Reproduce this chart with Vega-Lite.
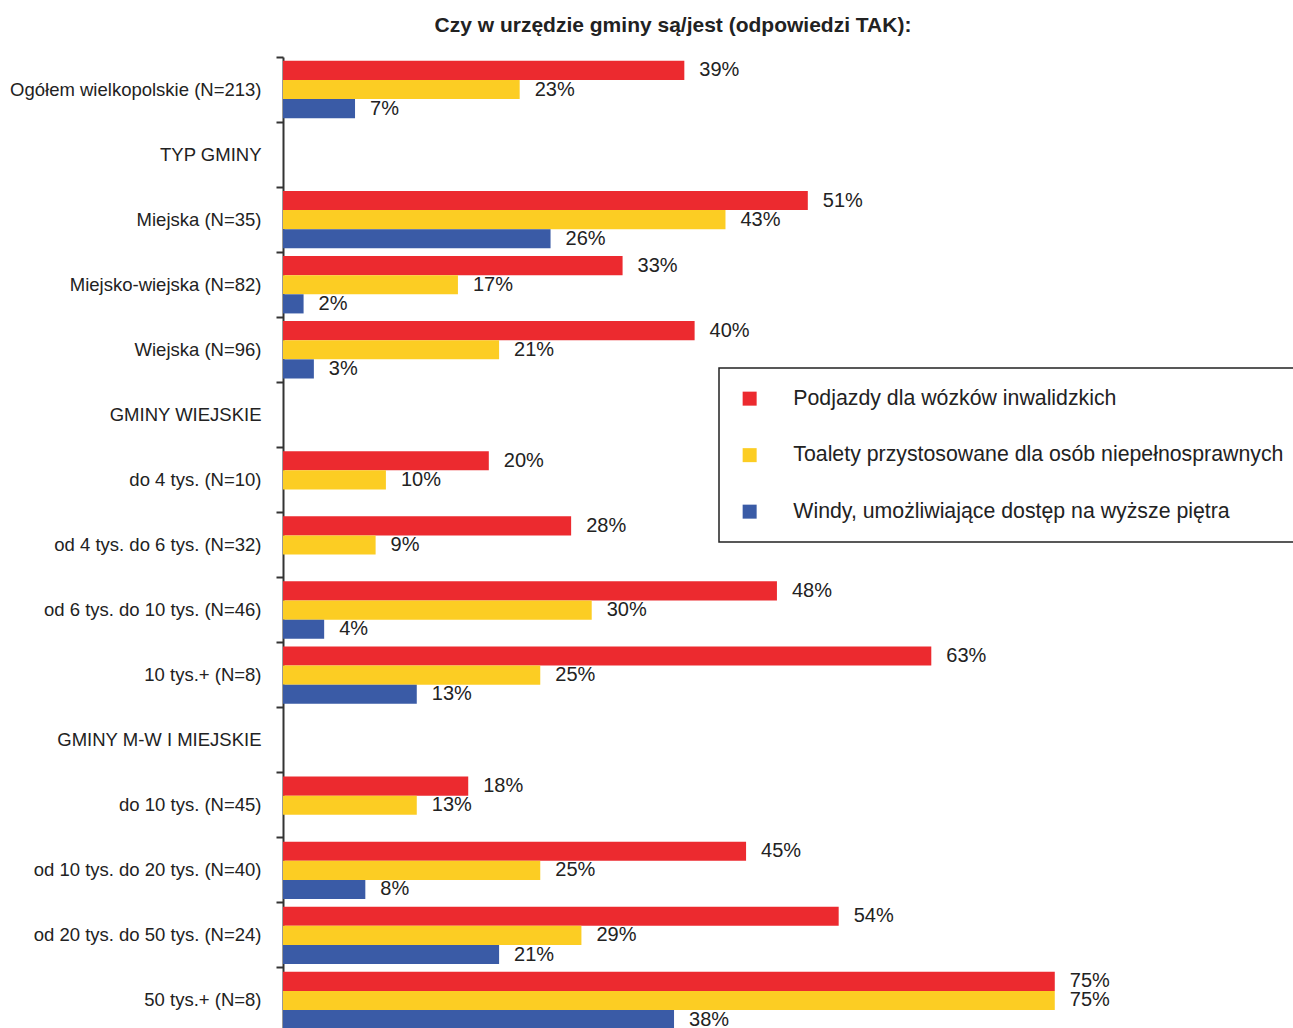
{
  "$schema": "https://vega.github.io/schema/vega-lite/v6.json",
  "width": 1010,
  "height": 971,
  "autosize": {"type": "none"},
  "padding": {"left": 283, "top": 57, "right": 0, "bottom": 0},
  "background": "white",
  "config": {"view": {"stroke": null}, "font": "Liberation Sans"},
  "title": {"text": "Czy w urzędzie gminy są/jest (odpowiedzi TAK):", "fontSize": 21, "font": "Liberation Sans", "fontWeight": "bold", "anchor": "middle", "dx": -115, "offset": 20, "color": "#222"},
  "data": {"values": [
    {"c": "Ogółem wielkopolskie (N=213)", "s": "Podjazdy dla wózków inwalidzkich", "v": 39},
    {"c": "Ogółem wielkopolskie (N=213)", "s": "Toalety przystosowane dla osób niepełnosprawnych", "v": 23},
    {"c": "Ogółem wielkopolskie (N=213)", "s": "Windy, umożliwiające dostęp na wyższe piętra", "v": 7},
    {"c": "Miejska (N=35)", "s": "Podjazdy dla wózków inwalidzkich", "v": 51},
    {"c": "Miejska (N=35)", "s": "Toalety przystosowane dla osób niepełnosprawnych", "v": 43},
    {"c": "Miejska (N=35)", "s": "Windy, umożliwiające dostęp na wyższe piętra", "v": 26},
    {"c": "Miejsko-wiejska (N=82)", "s": "Podjazdy dla wózków inwalidzkich", "v": 33},
    {"c": "Miejsko-wiejska (N=82)", "s": "Toalety przystosowane dla osób niepełnosprawnych", "v": 17},
    {"c": "Miejsko-wiejska (N=82)", "s": "Windy, umożliwiające dostęp na wyższe piętra", "v": 2},
    {"c": "Wiejska (N=96)", "s": "Podjazdy dla wózków inwalidzkich", "v": 40},
    {"c": "Wiejska (N=96)", "s": "Toalety przystosowane dla osób niepełnosprawnych", "v": 21},
    {"c": "Wiejska (N=96)", "s": "Windy, umożliwiające dostęp na wyższe piętra", "v": 3},
    {"c": "do 4 tys. (N=10)", "s": "Podjazdy dla wózków inwalidzkich", "v": 20},
    {"c": "do 4 tys. (N=10)", "s": "Toalety przystosowane dla osób niepełnosprawnych", "v": 10},
    {"c": "od 4 tys. do 6 tys. (N=32)", "s": "Podjazdy dla wózków inwalidzkich", "v": 28},
    {"c": "od 4 tys. do 6 tys. (N=32)", "s": "Toalety przystosowane dla osób niepełnosprawnych", "v": 9},
    {"c": "od 6 tys. do 10 tys. (N=46)", "s": "Podjazdy dla wózków inwalidzkich", "v": 48},
    {"c": "od 6 tys. do 10 tys. (N=46)", "s": "Toalety przystosowane dla osób niepełnosprawnych", "v": 30},
    {"c": "od 6 tys. do 10 tys. (N=46)", "s": "Windy, umożliwiające dostęp na wyższe piętra", "v": 4},
    {"c": "10 tys.+ (N=8)", "s": "Podjazdy dla wózków inwalidzkich", "v": 63},
    {"c": "10 tys.+ (N=8)", "s": "Toalety przystosowane dla osób niepełnosprawnych", "v": 25},
    {"c": "10 tys.+ (N=8)", "s": "Windy, umożliwiające dostęp na wyższe piętra", "v": 13},
    {"c": "do 10 tys. (N=45)", "s": "Podjazdy dla wózków inwalidzkich", "v": 18},
    {"c": "do 10 tys. (N=45)", "s": "Toalety przystosowane dla osób niepełnosprawnych", "v": 13},
    {"c": "od 10 tys. do 20 tys. (N=40)", "s": "Podjazdy dla wózków inwalidzkich", "v": 45},
    {"c": "od 10 tys. do 20 tys. (N=40)", "s": "Toalety przystosowane dla osób niepełnosprawnych", "v": 25},
    {"c": "od 10 tys. do 20 tys. (N=40)", "s": "Windy, umożliwiające dostęp na wyższe piętra", "v": 8},
    {"c": "od 20 tys. do 50 tys. (N=24)", "s": "Podjazdy dla wózków inwalidzkich", "v": 54},
    {"c": "od 20 tys. do 50 tys. (N=24)", "s": "Toalety przystosowane dla osób niepełnosprawnych", "v": 29},
    {"c": "od 20 tys. do 50 tys. (N=24)", "s": "Windy, umożliwiające dostęp na wyższe piętra", "v": 21},
    {"c": "50 tys.+ (N=8)", "s": "Podjazdy dla wózków inwalidzkich", "v": 75},
    {"c": "50 tys.+ (N=8)", "s": "Toalety przystosowane dla osób niepełnosprawnych", "v": 75},
    {"c": "50 tys.+ (N=8)", "s": "Windy, umożliwiające dostęp na wyższe piętra", "v": 38}
  ]},
  "encoding": {
    "y": {
      "field": "c", "type": "nominal",
      "scale": {"domain": ["Ogółem wielkopolskie (N=213)", "TYP GMINY", "Miejska (N=35)", "Miejsko-wiejska (N=82)", "Wiejska (N=96)", "GMINY WIEJSKIE", "do 4 tys. (N=10)", "od 4 tys. do 6 tys. (N=32)", "od 6 tys. do 10 tys. (N=46)", "10 tys.+ (N=8)", "GMINY M-W I MIEJSKIE", "do 10 tys. (N=45)", "od 10 tys. do 20 tys. (N=40)", "od 20 tys. do 50 tys. (N=24)", "50 tys.+ (N=8)"], "paddingInner": 0, "paddingOuter": 0, "range": [0, 976]},
      "axis": {"title": null, "labelFontSize": 18.5, "labelColor": "#222", "labelPadding": 15, "tickSize": 7, "tickWidth": 2, "tickColor": "#333", "domainColor": "#333", "domainWidth": 2, "bandPosition": 0, "labelLimit": 400, "grid": false}
    },
    "yOffset": {
      "field": "s", "type": "nominal",
      "sort": ["Podjazdy dla wózków inwalidzkich", "Toalety przystosowane dla osób niepełnosprawnych", "Windy, umożliwiające dostęp na wyższe piętra"],
      "scale": {"domain": ["Podjazdy dla wózków inwalidzkich", "Toalety przystosowane dla osób niepełnosprawnych", "Windy, umożliwiające dostęp na wyższe piętra"], "paddingInner": 0, "paddingOuter": 0.2}
    },
    "x": {"field": "v", "type": "quantitative", "scale": {"domain": [0, 98.15], "nice": false, "zero": true}, "axis": null}
  },
  "layer": [
    {
      "mark": {"type": "bar"},
      "encoding": {
        "color": {
          "field": "s", "type": "nominal",
          "scale": {"domain": ["Podjazdy dla wózków inwalidzkich", "Toalety przystosowane dla osób niepełnosprawnych", "Windy, umożliwiające dostęp na wyższe piętra"], "range": ["#EC2A2F", "#FCCD23", "#3A5BA6"]},
          "legend": {"title": null, "orient": "none", "legendX": 436, "legendY": 311, "strokeColor": "#222", "padding": 20, "symbolType": "square", "symbolSize": 196, "symbolStrokeWidth": 0, "labelFontSize": 21.3, "labelColor": "#222", "labelOffset": 33, "rowPadding": 34.5, "labelLimit": 700, "fillColor": "white",
            "encode": {"legend": {"update": {"strokeWidth": {"value": 1.5}}}}}
        }
      }
    },
    {
      "transform": [{"calculate": "datum.v + '%'", "as": "label"}],
      "mark": {"type": "text", "align": "left", "baseline": "middle", "dx": 15, "fontSize": 20, "color": "#222"},
      "encoding": {"text": {"field": "label"}}
    }
  ]
}
